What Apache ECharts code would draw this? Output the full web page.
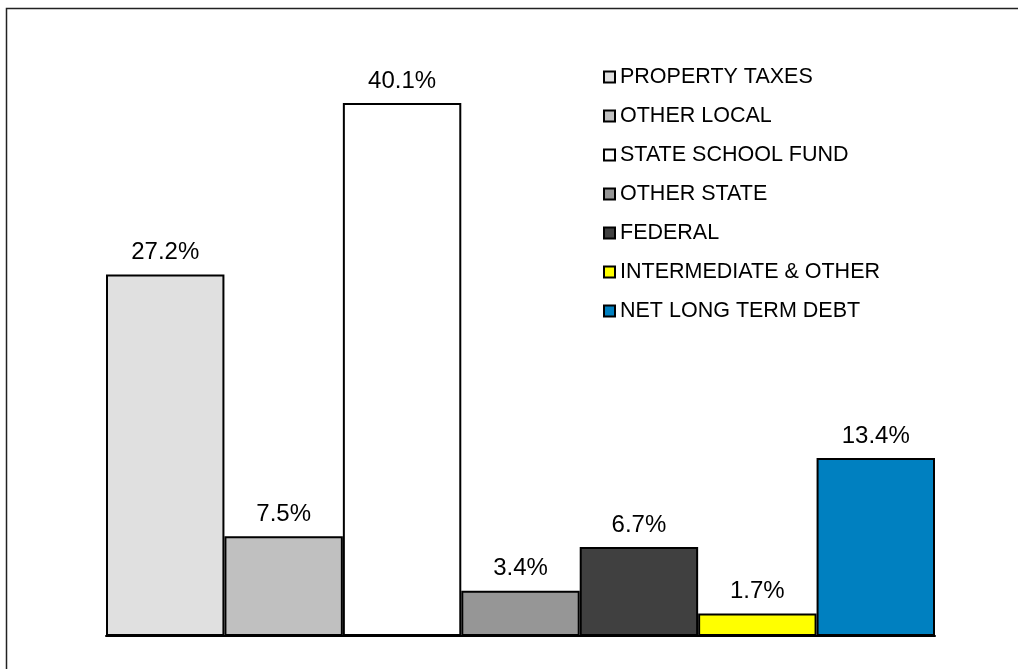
<!DOCTYPE html>
<html>
<head>
<meta charset="utf-8">
<title>Revenue sources</title>
<script src="https://cdn.jsdelivr.net/npm/echarts@6/dist/echarts.min.js"></script>
<style>
  html, body { margin: 0; padding: 0; background: #fff; }
  #chart { width: 1018px; height: 669px; }
</style>
</head>
<body>
<div id="chart"></div>
<script>
// categories and their share (%)
const categories = ['PROPERTY TAXES', 'OTHER LOCAL', 'STATE SCHOOL FUND', 'OTHER STATE', 'FEDERAL', 'INTERMEDIATE & OTHER', 'NET LONG TERM DEBT'];
const values = [27.2, 7.5, 40.1, 3.4, 6.7, 1.7, 13.4];

// fill colours, one per category
const palette = ['#e0e0e0', '#c0c0c0', '#ffffff', '#969696', '#404040', '#ffff00', '#0080c0'];

const chart = echarts.init(document.getElementById('chart'));

// one series per category so the legend lists them; stacked so each bar fills its slot
const series = categories.map((name, i) => ({
  name: name,
  type: 'bar',
  stack: 'all',
  barWidth: '100%',
  data: values.map((v, j) => (j === i ? v : '-')),
  itemStyle: {
    color: palette[i],
    borderColor: '#000',
    borderWidth: 2
  },
  label: {
    show: true,
    position: 'top',
    distance: 10,
    formatter: '{c}%',
    fontFamily: 'Liberation Sans, Arial, sans-serif',
    fontSize: 24,
    color: '#000'
  },
  animation: false
}));

const option = {
  backgroundColor: '#fff',
  animation: false,
  graphic: [{
    type: 'rect',
    shape: { x: 6.5, y: 8.5, width: 1100, height: 700 },
    style: { fill: 'none', stroke: '#222', lineWidth: 1.5 },
    silent: true
  }],
  grid: { left: 106, right: 83, top: 38, bottom: 33 },
  legend: {
    orient: 'vertical',
    left: 603,
    top: 65,
    padding: 0,
    itemWidth: 11,
    itemHeight: 11,
    itemGap: 15,
    icon: 'rect',
    selectedMode: false,
    textStyle: {
      fontFamily: 'Liberation Sans, Arial, sans-serif',
      fontSize: 21.5,
      lineHeight: 24,
      color: '#000'
    },
    data: categories
  },
  xAxis: {
    type: 'category',
    data: categories,
    axisLine: { show: true, lineStyle: { color: '#000', width: 2 } },
    axisTick: { show: false },
    axisLabel: { show: false },
    splitLine: { show: false }
  },
  yAxis: {
    type: 'value',
    min: 0,
    max: 45,
    show: false,
    splitLine: { show: false }
  },
  series: series
};

chart.setOption(option);
</script>
</body>
</html>
